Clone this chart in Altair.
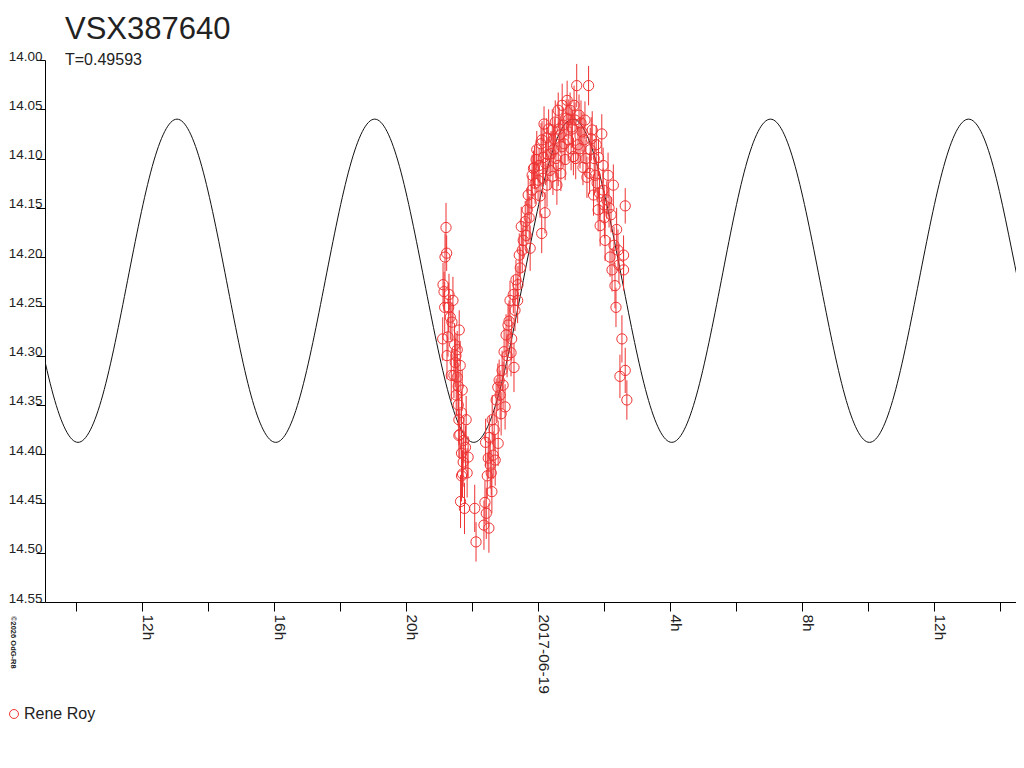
import altair as alt
import pandas as pd

STAR = "VSX387640"
PERIOD_LABEL = "T=0.49593"
OBSERVER = "Rene Roy"
CREDIT = "\u00a92026 OdG-R8"

# Observations: hours since 2017-06-18 00:00, magnitude, error
OBS_HOURS = [
    21.11, 21.14, 21.17, 21.20, 21.22, 21.16, 21.10, 21.23, 21.26, 21.28,
    21.29, 21.33, 21.36, 21.38, 21.41, 21.46, 21.48, 21.51, 21.54, 21.54,
    21.57, 21.57, 21.59, 21.59, 21.60, 21.63, 21.64, 21.67, 21.67, 21.67,
    21.69, 21.72, 21.74, 21.76, 21.79, 21.81, 21.84, 21.87,
    22.07, 22.11, 22.35, 22.38, 22.40, 22.42, 22.45, 22.48, 22.50, 22.51,
    22.54, 22.57, 22.59, 22.60, 22.63, 22.66, 22.69, 22.72, 22.77, 22.78,
    22.81, 22.84, 22.87, 22.90, 22.96, 22.99, 23.02, 23.08, 23.14, 23.17,
    23.19, 23.24, 23.26, 23.29, 23.32, 23.37, 23.38, 23.42, 23.45, 23.48,
    23.51, 23.54, 23.60, 23.63, 23.66, 23.69, 23.75, 23.80, 23.81, 23.85,
    23.88, 23.93, 23.95, 23.99, 24.02, 24.05, 24.10, 24.11, 24.15, 24.17,
    24.20, 24.25, 24.26, 24.29, 24.35, 24.42, 24.46, 24.51, 24.56, 24.60,
    24.60, 24.66, 24.71, 24.72, 24.75, 24.81, 24.84, 24.87, 24.90, 24.96,
    25.01, 25.06, 25.08, 25.11, 25.16, 25.20, 25.23, 25.32, 25.35, 25.38,
    25.41, 25.47, 25.52, 25.57, 25.63, 25.67, 25.72, 25.75, 25.81, 25.82,
    25.87, 25.92, 25.96, 25.96, 25.99, 26.02, 26.07, 26.11, 26.17, 26.20,
    26.23, 26.27, 26.29, 26.32, 26.35, 26.37, 26.41, 26.44, 26.47, 26.53,
    26.58, 26.58, 26.63, 26.63, 26.68,
    24.08, 24.13, 24.22, 24.31, 24.38, 24.44, 24.48, 24.53, 24.63, 24.68,
    24.78, 24.92, 24.99, 25.03, 25.13, 25.26, 25.29, 25.44, 25.55, 25.60,
    25.69, 25.78, 25.85, 26.00, 26.14, 23.72, 23.78, 23.90, 22.93, 23.05,
    23.11, 21.44, 21.50, 21.62, 21.70,
]
OBS_MAG = [
    14.228, 14.235, 14.200, 14.170, 14.196, 14.251, 14.283, 14.300, 14.281, 14.251,
    14.238, 14.261, 14.320, 14.266, 14.244, 14.289, 14.307, 14.340, 14.322, 14.294,
    14.331, 14.350, 14.365, 14.381, 14.274, 14.310, 14.448, 14.358, 14.399, 14.422,
    14.335, 14.408, 14.386, 14.455, 14.393, 14.365, 14.419, 14.403,
    14.455, 14.489, 14.472, 14.449, 14.388, 14.460, 14.422, 14.404, 14.475, 14.383,
    14.411, 14.419, 14.438, 14.365, 14.401, 14.375, 14.406, 14.345, 14.332, 14.389,
    14.325, 14.340, 14.359, 14.315, 14.296, 14.352, 14.279, 14.269, 14.244, 14.297,
    14.283, 14.238, 14.312, 14.254, 14.223, 14.244, 14.228, 14.198, 14.211, 14.169,
    14.193, 14.183, 14.164, 14.178, 14.152, 14.137, 14.191, 14.132, 14.117, 14.110,
    14.109, 14.101, 14.091, 14.122, 14.107, 14.138, 14.176, 14.081, 14.099, 14.065,
    14.155, 14.079, 14.127, 14.096, 14.112, 14.071, 14.091, 14.063, 14.127, 14.051,
    14.107, 14.076, 14.088, 14.046, 14.066, 14.101, 14.059, 14.041, 14.081, 14.051,
    14.068, 14.098, 14.046, 14.061, 14.026, 14.086, 14.056, 14.073, 14.109, 14.081,
    14.061, 14.119, 14.026, 14.091, 14.071, 14.137, 14.117, 14.086, 14.152, 14.099,
    14.168, 14.075, 14.107, 14.132, 14.147, 14.183, 14.142, 14.117, 14.200, 14.157,
    14.213, 14.127, 14.188, 14.229, 14.251, 14.172, 14.193, 14.208, 14.321, 14.283,
    14.198, 14.213, 14.148, 14.315, 14.345,
    14.085, 14.120, 14.105, 14.070, 14.095, 14.118, 14.080, 14.100, 14.070, 14.115,
    14.085, 14.060, 14.090, 14.070, 14.100, 14.090, 14.064, 14.100, 14.115, 14.080,
    14.100, 14.125, 14.135, 14.160, 14.150, 14.160, 14.145, 14.125, 14.330, 14.300,
    14.265, 14.320, 14.300, 14.380, 14.420,
]
OBS_ERR = [
    0.022, 0.020, 0.024, 0.025, 0.018, 0.026, 0.022, 0.024, 0.020, 0.025,
    0.021, 0.023, 0.026, 0.020, 0.024, 0.022, 0.025, 0.021, 0.023, 0.019,
    0.024, 0.022, 0.026, 0.023, 0.020, 0.025, 0.027, 0.022, 0.024, 0.026,
    0.021, 0.025, 0.023, 0.026, 0.022, 0.024, 0.025, 0.021, 0.024, 0.020,
    0.025, 0.022, 0.024, 0.026, 0.023, 0.021, 0.025, 0.022, 0.024, 0.023,
    0.022, 0.025, 0.024, 0.021, 0.026, 0.022, 0.024, 0.023, 0.021, 0.025,
    0.022, 0.020, 0.024, 0.023, 0.021, 0.022, 0.020, 0.024, 0.022, 0.019,
    0.025, 0.021, 0.020, 0.023, 0.019, 0.022, 0.021, 0.020, 0.023, 0.019,
    0.021, 0.018, 0.022, 0.020, 0.023, 0.019, 0.021, 0.018, 0.022, 0.020,
    0.019, 0.021, 0.018, 0.022, 0.020, 0.019, 0.023, 0.018, 0.021, 0.020,
    0.022, 0.018, 0.020, 0.021, 0.019, 0.022, 0.020, 0.018, 0.021, 0.019,
    0.020, 0.022, 0.018, 0.021, 0.019, 0.020, 0.022, 0.018, 0.021, 0.019,
    0.020, 0.018, 0.022, 0.019, 0.021, 0.020, 0.018, 0.022, 0.019, 0.021,
    0.020, 0.022, 0.019, 0.021, 0.018, 0.020, 0.022, 0.019, 0.021, 0.020,
    0.018, 0.022, 0.020, 0.021, 0.019, 0.023, 0.020, 0.018, 0.022, 0.021,
    0.019, 0.023, 0.020, 0.022, 0.021, 0.019, 0.022, 0.024, 0.020, 0.021,
    0.018, 0.023, 0.020,
    0.021, 0.019, 0.022, 0.020, 0.023, 0.019, 0.021, 0.020, 0.022, 0.018,
    0.021, 0.020, 0.022, 0.019, 0.021, 0.020, 0.023, 0.019, 0.021, 0.022,
    0.020, 0.019, 0.022, 0.021, 0.020, 0.022, 0.019, 0.021, 0.024, 0.022,
    0.021, 0.023, 0.022, 0.025, 0.024,
]

# Fitted light-curve at eighth-period steps
CURVE_HOURS = [
    8.55, 9.30, 10.05, 10.80, 11.55, 12.30, 13.05, 13.80, 14.55, 15.29,
    16.04, 16.79, 17.54, 18.29, 19.04, 19.79, 20.54, 21.29, 22.04, 22.79,
    23.54, 24.29, 25.04, 25.79, 26.54, 27.29, 28.04, 28.79, 29.54, 30.28,
    31.03, 31.78, 32.53, 33.28, 34.03, 34.78, 35.53, 36.28, 37.03, 37.78,
    38.53, 39.28,
]
CURVE_MAG = [
    14.224, 14.340, 14.388, 14.340, 14.224, 14.108, 14.060, 14.108, 14.224, 14.340,
    14.388, 14.340, 14.224, 14.108, 14.060, 14.108, 14.224, 14.340, 14.388, 14.340,
    14.224, 14.108, 14.060, 14.108, 14.224, 14.340, 14.388, 14.340, 14.224, 14.108,
    14.060, 14.108, 14.224, 14.340, 14.388, 14.340, 14.224, 14.108, 14.060, 14.108,
    14.224, 14.340,
]

Y_TICKS = [14.00, 14.05, 14.10, 14.15, 14.20, 14.25, 14.30, 14.35, 14.40, 14.45, 14.50, 14.55]
X_TICK_HOURS = [10, 11, 12, 13, 14, 15, 16, 17, 18, 19, 20, 21, 22, 23, 24,
                25, 26, 27, 28, 29, 30, 31, 32, 33, 34, 35, 36, 37, 38]
X_DOMAIN = [9.05, 38.47]
Y_DOMAIN = [14.00, 14.55]
DATE_LABEL = "2017-06-19"

n = min(len(OBS_HOURS), len(OBS_MAG), len(OBS_ERR))
obs = pd.DataFrame({
    "hours": OBS_HOURS[:n],
    "mag": OBS_MAG[:n],
    "err": OBS_ERR[:n],
})
obs["observer"] = OBSERVER
obs["lo"] = obs["mag"] - obs["err"]
obs["hi"] = obs["mag"] + obs["err"]
curve = pd.DataFrame({"hours": CURVE_HOURS, "mag": CURVE_MAG})
credit = pd.DataFrame({"t": [CREDIT]})

RED = "#EE3333"
INK = "#222222"
FONT = "Liberation Sans"

x_scale = alt.Scale(domain=X_DOMAIN, nice=False, zero=False)
y_scale = alt.Scale(domain=Y_DOMAIN, reverse=True, nice=False, zero=False)

label_expr = (
    f"datum.value % 24 == 0 ? '{DATE_LABEL}' : "
    "(datum.value % 4 == 0 ? (datum.value % 24) + 'h' : '')"
)

x_axis = alt.Axis(
    values=X_TICK_HOURS, labelExpr=label_expr, labelAngle=90,
    labelAlign="left", labelBaseline="alphabetic", tickSize=9,
    labelPadding=3, labelFont=FONT, labelFontSize=15.5, labelColor=INK,
    labelOverlap=False, labelFlush=False, title=None, grid=False,
    domainColor="#000000", tickColor="#000000",
)
y_axis = alt.Axis(
    values=Y_TICKS, format=".2f", tickSize=9, labelPadding=-6,
    labelBaseline="alphabetic", labelFont=FONT, labelFontSize=13.5,
    labelColor=INK, labelOverlap=False, labelFlush=False, title=None,
    grid=False, domainColor="#000000", tickColor="#000000",
)

line = alt.Chart(curve).mark_line(
    color="#111111", strokeWidth=1, clip=True, interpolate="natural"
).encode(
    x=alt.X("hours:Q", scale=x_scale, axis=x_axis),
    y=alt.Y("mag:Q", scale=y_scale, axis=y_axis),
)

bars = alt.Chart(obs).mark_rule(color=RED, strokeWidth=1).encode(
    x=alt.X("hours:Q", scale=x_scale),
    y=alt.Y("lo:Q", scale=y_scale),
    y2="hi:Q",
)

points = alt.Chart(obs).mark_point(
    shape="circle", filled=False, size=105, strokeWidth=1, opacity=1
).encode(
    x=alt.X("hours:Q", scale=x_scale),
    y=alt.Y("mag:Q", scale=y_scale),
    color=alt.Color(
        "observer:N",
        scale=alt.Scale(range=[RED]),
        legend=alt.Legend(
            orient="none", legendX=-39, legendY=646, title=None,
            symbolType="circle", symbolSize=80, symbolStrokeWidth=1,
            labelFont=FONT, labelFontSize=16, labelColor=INK, labelOffset=2,
            padding=0,
        ),
    ),
)

credit_text = alt.Chart(credit).mark_text(
    angle=90, align="left", baseline="middle", fontSize=7.5,
    font=FONT, fontWeight="bold", color=INK,
).encode(text="t:N", x=alt.value(-32), y=alt.value(556))

chart = alt.layer(line, bars, points, credit_text).properties(
    width=971,
    height=542,
    background="white",
    autosize=alt.AutoSizeParams(type="none"),
    padding={"left": 37, "top": 52, "right": 0, "bottom": 140},
    title=alt.Title(
        text=STAR, subtitle=PERIOD_LABEL, anchor="start", frame="group",
        dx=20, offset=-20, font=FONT, fontSize=31, fontWeight="normal",
        color=INK, subtitleFont=FONT, subtitleFontSize=16,
        subtitleColor=INK, subtitlePadding=6,
    ),
).configure_view(stroke=None)

chart.save("out.html", embed_options={"renderer": "svg", "actions": False})
